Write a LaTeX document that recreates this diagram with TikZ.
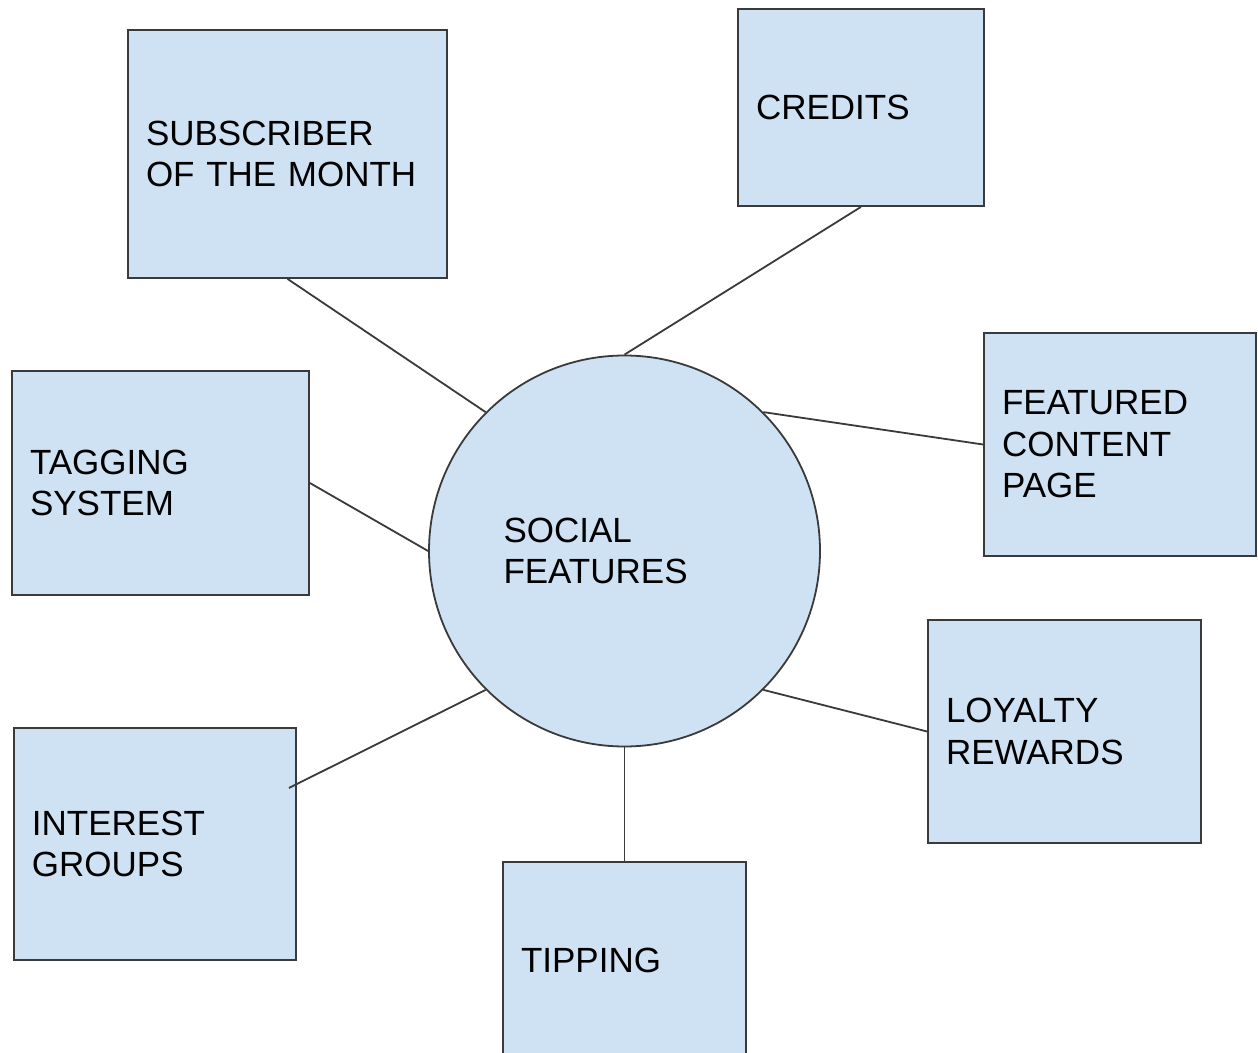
\documentclass[tikz,border=0pt]{standalone}
\usepackage{fontspec}
\setmainfont{Liberation Sans}
\usetikzlibrary{positioning}
\definecolor{boxfill}{HTML}{CFE2F3}
\definecolor{edge}{HTML}{3A3A3A}

\begin{document}
\begin{tikzpicture}[x=0.5pt, y=-0.5pt,
      txt/.style={font=\fontsize{17.5pt}{20.75pt}\selectfont},
      box/.style={txt, draw=edge, line width=0.9pt, fill=boxfill, align=left,
                  inner xsep=9pt, inner ysep=0pt},
      hub/.style={txt, circle, draw=edge, line width=0.9pt, fill=boxfill, inner sep=0pt,
                  minimum size=195.5pt, align=left, text width=121pt},
      link/.style={draw=edge, line width=0.9pt}]

    % ---- Canvas ----
    \fill[white] (0,0) rectangle (1258,1053);
    \useasboundingbox (0,0) rectangle (1258,1053);

    % ---- Hub ----
    \node[hub] (soc) at (624.5, 551) {SOCIAL\\FEATURES};

    % ---- Feature boxes ----
    \node[box, text width=141.5pt, minimum height=124pt]   (sub)  at (287.5, 154)   {SUBSCRIBER\\OF THE MONTH};
    \node[box, text width=105pt,   minimum height=98.5pt]  (cred) at (861, 107.5)   {CREDITS};
    \node[box, text width=118pt,   minimum height=111.5pt] (feat) at (1120, 444.5)  {FEATURED\\CONTENT\\PAGE};
    \node[box, text width=118.5pt, minimum height=111.5pt] (loy)  at (1064.5, 731.5) {LOYALTY\\REWARDS};
    \node[box, text width=103.5pt, minimum height=98pt]    (tip)  at (624.5, 960)   {TIPPING};
    \node[box, text width=123pt,   minimum height=116pt]   (int)  at (155, 844)     {INTEREST\\GROUPS};
    \node[box, text width=130.5pt, minimum height=112pt]   (tag)  at (160.5, 483)   {TAGGING\\SYSTEM};

    % interest line stops a little inside its box
    \coordinate (intc) at ([xshift=-4pt, yshift=28pt]int.east);

    % ---- Spokes ----
    \draw[link] (sub.south)  -- (soc.135);
    \draw[link] (cred.south) -- (soc.north);
    \draw[link] (feat.west)  -- (soc.45);
    \draw[link] (tag.east)   -- (soc.west);
    \draw[link] (intc)       -- (soc.225);
    \draw[link] (loy.west)   -- (soc.-45);
    \draw[link] (tip.north)  -- (soc.south);
\end{tikzpicture}
\end{document}
